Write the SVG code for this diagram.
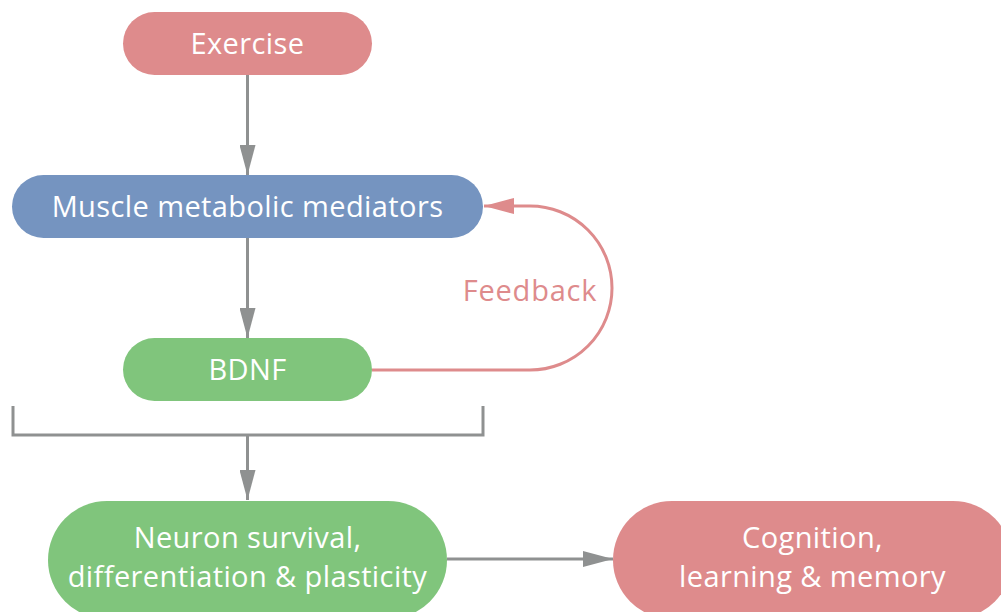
<svg xmlns="http://www.w3.org/2000/svg" width="1001" height="612" viewBox="0 0 1001 612">
<defs>
<marker id="ag" markerWidth="30" markerHeight="16" refX="30" refY="8" orient="auto" markerUnits="userSpaceOnUse"><path d="M0,0 L30,8 L0,16 Z" fill="#8f9191"/></marker>
<marker id="ap" markerWidth="30" markerHeight="16" refX="30" refY="8" orient="auto" markerUnits="userSpaceOnUse"><path d="M0,0 L30,8 L0,16 Z" fill="#de8b8c"/></marker>
<style>
.t{font-family:"Open Sans","Liberation Sans",sans-serif;font-size:29px;letter-spacing:0.4px;fill:#fff;text-anchor:middle}
.f{font-family:"Open Sans","Liberation Sans",sans-serif;font-size:29px;letter-spacing:0.8px;fill:#de8b8c;text-anchor:middle}
.g{fill:none;stroke:#8f9191;stroke-width:3}
.p{fill:none;stroke:#de8b8c;stroke-width:3}
</style>
</defs>
<rect width="1001" height="612" fill="#fff"/>
<g id="connectors">
<line class="g" x1="247.5" y1="75" x2="247.5" y2="175" marker-end="url(#ag)"/>
<line class="g" x1="247.5" y1="238" x2="247.5" y2="338" marker-end="url(#ag)"/>
<path class="g" d="M13,406 V435 H483 V406"/>
<line class="g" x1="247.5" y1="435" x2="247.5" y2="500" marker-end="url(#ag)"/>
<line class="g" x1="447" y1="559" x2="613" y2="559" marker-end="url(#ag)"/>
<path class="p" d="M372,370 H530 A82,82 0 0 0 530,206 H484" marker-end="url(#ap)"/>
<text class="f" x="530" y="301">Feedback</text>
</g>
<g id="exercise"><rect x="123" y="12" width="249" height="63" rx="31.5" fill="#de8b8c"/><text class="t" x="247.5" y="54">Exercise</text></g>
<g id="muscle"><rect x="12" y="175" width="471" height="63" rx="31.5" fill="#7594c0"/><text class="t" x="247.5" y="217">Muscle metabolic mediators</text></g>
<g id="bdnf"><rect x="123" y="338" width="249" height="63" rx="31.5" fill="#80c57c"/><text class="t" x="247.5" y="380">BDNF</text></g>
<g id="neuron"><rect x="48" y="501" width="399" height="118" rx="59" fill="#80c57c"/><text class="t" x="247.5" y="548">Neuron survival,</text><text class="t" x="247.5" y="587">differentiation &amp; plasticity</text></g>
<g id="cognition"><rect x="613" y="501" width="399" height="118" rx="59" fill="#de8b8c"/><text class="t" x="812.5" y="548">Cognition,</text><text class="t" x="812.5" y="587">learning &amp; memory</text></g>
</svg>
